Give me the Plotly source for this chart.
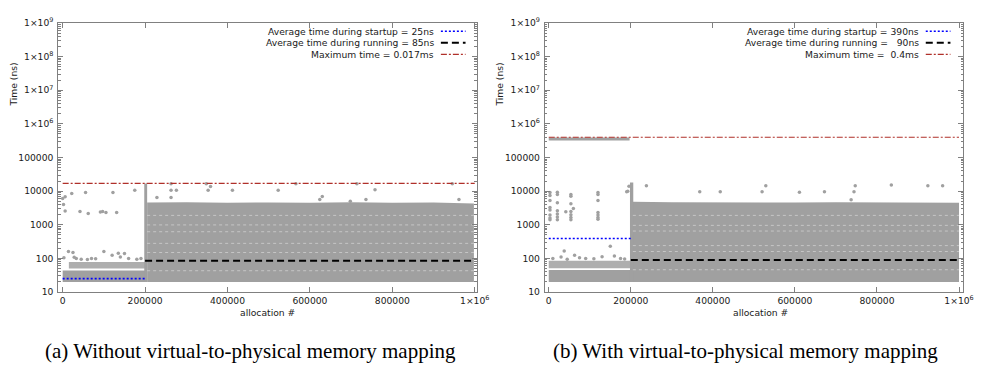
import plotly.graph_objects as go

W, H = 997, 373
GRAY = "#a0a0a0"
AXIS_GRAY = "#808080"
BLUE = "#0000ff"
DARKRED = "#b0302a"

# ---------------- axis ticks ----------------
x_tickvals = [0, 200000, 400000, 600000, 800000, 1000000]
x_ticktext = ["0", "200000", "400000", "600000", "800000", "1×10<sup>6</sup>"]
y_tickvals = [10, 100, 1000, 10000, 100000, 1e6, 1e7, 1e8, 1e9]
y_ticktext = ["10", "100", "1000", "10000", "100000",
              "1×10<sup>6</sup>", "1×10<sup>7</sup>", "1×10<sup>8</sup>", "1×10<sup>9</sup>"]

# ---------------- panel (a): without mapping ----------------
A_avg_startup = 25        # ns
A_avg_running = 85        # ns
A_max = 17000             # ns
A_startup_end = 200000
A_run_end = 1000000
A_labels = ["Average time during startup = 25ns",
            "Average time during running = 85ns",
            "Maximum time = 0.017ms"]

# dense startup band (low)
A_su_band_lo = 20
A_su_band_hi = 44
# secondary startup band
A_su2_x = [15000, 200000]
A_su2_lo = 50
A_su2_hi = 78
# running band top edge
A_run_top_x = [205000, 300000, 400000, 500000, 600000, 700000, 800000, 900000, 998000]
A_run_top_y = [4600, 4700, 4500, 4600, 4500, 4700, 4500, 4600, 4300]
A_run_lo = 20
# spike at start of running phase
A_spike_x = [198000, 205000]
A_spike_hi = 17000
# white streaks inside running band
A_streak_y = [43, 150, 280, 620, 990, 1900]
# outliers startup
A_su_out_x = [0, 6000, 2000, 6000, 22000, 55600, 42000, 62000, 91500, 97000, 105000,
              122000, 131000, 175000,
              14000, 25000, 28000, 3000, 33000, 45000, 70000, 80000, 100000, 120000,
              135000, 150000, 160000, 180000, 190000, 60000, 140000]
A_su_out_y = [6050, 6800, 4000, 2560, 8500, 9050, 2500, 2150, 2400, 2500, 2300,
              9050, 2300, 10700,
              160, 150, 108, 105, 100, 95, 100, 98, 160, 125, 143, 140, 100, 95, 100, 92, 110]
# outliers running
A_run_out_x = [228700, 263000, 263000, 276000, 263000, 348500, 358800, 353000, 412000,
               523000, 566000, 624000, 630000, 698000, 714000, 736000, 758000, 945600, 961700]
A_run_out_y = [6450, 16600, 10700, 10700, 6450, 16600, 13700, 10700, 10700,
               10700, 16600, 5600, 6900, 4980, 16600, 5600, 11000, 16600, 5600]

# ---------------- panel (b): with mapping ----------------
B_avg_startup = 390
B_avg_running = 90
B_max = 400000
B_labels = ["Average time during startup = 390ns",
            "Average time during running = \u00a0\u00a090ns",
            "Maximum time = \u00a00.4ms"]
B_su_band_lo = 20
B_su_band_hi = 45
B_su2_x = [0, 200000]
B_su2_lo = 51
B_su2_hi = 85
# mapping band under the max line
B_map_x = [0, 197000]
B_map_lo = 320000
B_map_hi = 390000
B_run_top_x = [205000, 300000, 400000, 500000, 600000, 700000, 800000, 900000, 1000000]
B_run_top_y = [4800, 4700, 4600, 4700, 4600, 4700, 4600, 4700, 4500]
B_run_lo = 20
B_spike_x = [198000, 206000]
B_spike_hi = 18000
B_streak_y = [46, 160, 240, 650, 960, 1900]
B_su_out_x = [3000, 3000, 3000, 3000, 3000, 3000, 3000, 3000,
              21000, 21000, 21000, 21000, 21000, 21000, 21000,
              54000, 54000, 54000, 54000, 54000, 54000, 54000,
              120000, 120000, 120000, 120000, 120000, 120000, 120000,
              41600, 60000, 37700, 63000, 150000, 195600, 192500,
              10000, 30000, 45000, 75000, 90000, 110000, 130000, 160000, 175000, 185000]
B_su_out_y = [9100, 7400, 5270, 3240, 2740, 1950, 1580, 1400,
              9300, 8000, 4500, 2600, 2100, 1700, 1400,
              8000, 7000, 4200, 2500, 2000, 1650, 1400,
              9100, 8000, 5300, 2300, 1950, 1650, 1450,
              2450, 3050, 166, 125, 228, 14000, 10000,
              100, 110, 95, 105, 100, 98, 112, 118, 100, 96]
B_run_out_x = [190000, 238000, 368000, 418000, 520000, 529000, 611000, 672000,
               744000, 747000, 835000, 924000, 960000, 737000]
B_run_out_y = [9600, 14500, 9600, 9600, 9600, 14500, 9200, 9600,
               9600, 14500, 15200, 14500, 14500, 5500]

fig = go.Figure()


def rect(x0, x1, lo, hi):
    return [x0, x1, x1, x0, x0], [lo, lo, hi, hi, lo]


def add_panel(xa, ya, su_lo, su_hi, su2x, su2lo, su2hi, run_top_x, run_top_y, run_lo,
              spike_x, spike_hi, streak_y, su_out_x, su_out_y, run_out_x, run_out_y,
              avg_su, avg_run, vmax, extra_band=None):
    def poly(x, y, op=1.0):
        fig.add_trace(go.Scatter(x=x, y=y, mode="lines", fill="toself", fillcolor=GRAY,
                                 line=dict(width=0, color=GRAY), opacity=op,
                                 xaxis=xa, yaxis=ya, hoverinfo="skip", showlegend=False))
    # startup dense band
    x, y = rect(0, A_startup_end, su_lo, su_hi)
    poly(x, y)
    x, y = rect(su2x[0], su2x[1], su2lo, su2hi)
    poly(x, y, 0.85)
    if extra_band is not None:
        x, y = rect(*extra_band)
        poly(x, y)
    # running band
    xs = [run_top_x[0]] + run_top_x + [run_top_x[-1], run_top_x[0]]
    ys = [run_lo] + run_top_y + [run_lo, run_lo]
    poly(xs, ys)
    x, y = rect(spike_x[0], spike_x[1], run_lo, spike_hi)
    poly(x, y)
    # white streaks
    for sy in streak_y:
        fig.add_trace(go.Scatter(x=[run_top_x[0], run_top_x[-1]], y=[sy, sy], mode="lines",
                                 line=dict(color="white", width=1, dash="dot"), opacity=0.4,
                                 xaxis=xa, yaxis=ya, hoverinfo="skip", showlegend=False))
    # outliers
    fig.add_trace(go.Scatter(x=su_out_x + run_out_x, y=su_out_y + run_out_y, mode="markers",
                             marker=dict(color=GRAY, size=3.5, symbol="circle"),
                             xaxis=xa, yaxis=ya, showlegend=False))
    # reference lines
    fig.add_trace(go.Scatter(x=[0, A_startup_end], y=[avg_su, avg_su], mode="lines",
                             line=dict(color=BLUE, width=1.6, dash="2px,2px"),
                             xaxis=xa, yaxis=ya, showlegend=False))
    fig.add_trace(go.Scatter(x=[A_startup_end, A_run_end], y=[avg_run, avg_run], mode="lines",
                             line=dict(color="black", width=2, dash="7px,4px"),
                             xaxis=xa, yaxis=ya, showlegend=False))
    fig.add_trace(go.Scatter(x=[0, A_run_end], y=[vmax, vmax], mode="lines",
                             line=dict(color=DARKRED, width=1.2, dash="6px,2px,2px,2px"),
                             xaxis=xa, yaxis=ya, showlegend=False))


add_panel("x", "y", A_su_band_lo, A_su_band_hi, A_su2_x, A_su2_lo, A_su2_hi,
          A_run_top_x, A_run_top_y, A_run_lo, A_spike_x, A_spike_hi, A_streak_y,
          A_su_out_x, A_su_out_y, A_run_out_x, A_run_out_y,
          A_avg_startup, A_avg_running, A_max)
add_panel("x2", "y2", B_su_band_lo, B_su_band_hi, B_su2_x, B_su2_lo, B_su2_hi,
          B_run_top_x, B_run_top_y, B_run_lo, B_spike_x, B_spike_hi, B_streak_y,
          B_su_out_x, B_su_out_y, B_run_out_x, B_run_out_y,
          B_avg_startup, B_avg_running, B_max,
          extra_band=(B_map_x[0], B_map_x[1], B_map_lo, B_map_hi))

FONT = "DejaVu Sans"
TF = dict(family=FONT, size=9.2, color="#1a1a1a")

minor_vals = [m * 10 ** e for e in range(1, 9) for m in range(2, 10)]


def xaxis_cfg(dom, rng, anchor):
    return dict(domain=dom, range=rng, anchor=anchor, showgrid=False, zeroline=False,
                showline=True, linecolor=AXIS_GRAY, linewidth=1, mirror="allticks",
                ticks="inside", ticklen=5, tickcolor=AXIS_GRAY, tickwidth=1,
                tickmode="array", tickvals=x_tickvals, ticktext=x_ticktext, tickfont=TF)


def yaxis_cfg(dom, anchor):
    return dict(domain=dom, type="log", range=[1, 9], anchor=anchor, showgrid=False,
                zeroline=False, showline=True, linecolor=AXIS_GRAY, linewidth=1,
                mirror="allticks", ticks="inside", ticklen=5, tickcolor=AXIS_GRAY,
                tickwidth=1, tickmode="array", tickvals=y_tickvals, ticktext=y_ticktext,
                tickfont=TF, ticklabelstandoff=2,
                minor=dict(tickvals=minor_vals, ticks="inside", ticklen=2.5,
                           tickcolor=AXIS_GRAY, showgrid=False))


ydom = [1 - 294.5 / H, 1 - 16.5 / H]
fig.update_layout(
    width=W, height=H, margin=dict(l=0, r=0, t=0, b=0),
    paper_bgcolor="white", plot_bgcolor="white", showlegend=False,
    xaxis=xaxis_cfg([59 / W, 483 / W], [-10780, 1004790], "y"),
    yaxis=yaxis_cfg(ydom, "x"),
    xaxis2=xaxis_cfg([552 / W, 976 / W], [-9620, 1010340], "y2"),
    yaxis2=yaxis_cfg(ydom, "x2"),
)


def px(x):
    return x / W


def py(y):
    return 1 - y / H


ann = []
shapes = []
LF = dict(family=FONT, size=9.2, color="#1a1a1a")
for labels, text_right, s0, s1 in [(A_labels, 441.7, 446.7, 471.7),
                                   (B_labels, 932.7, 938, 963)]:
    rows = [25, 37, 49]
    styles = [dict(color=BLUE, width=1.6, dash="2px,2px"),
              dict(color="black", width=2, dash="7px,4px"),
              dict(color=DARKRED, width=1.2, dash="6px,2px,2px,2px")]
    for lab, ry, st in zip(labels, rows, styles):
        ann.append(dict(x=px(text_right), y=py(ry), xref="paper", yref="paper", text=lab,
                        showarrow=False, xanchor="right", yanchor="middle", font=LF))
        shapes.append(dict(type="line", xref="paper", yref="paper", x0=px(s0), x1=px(s1),
                           y0=py(ry), y1=py(ry), line=st))

# axis titles
for xc in [13.3, 505.7]:
    ann.append(dict(x=px(xc), y=py(80), xref="paper", yref="paper", text="Time (ns)",
                    showarrow=False, textangle=-90, font=TF, xanchor="center", yanchor="middle"))
for xc in [271, 771]:
    ann.append(dict(x=px(xc), y=py(316), xref="paper", yref="paper", text="allocation #",
                    showarrow=False, font=TF, xanchor="center", yanchor="middle"))
# captions
CF = dict(family="Liberation Serif", size=21, color="black")
ann.append(dict(x=px(254), y=py(355), xref="paper", yref="paper",
                text="(a) Without virtual-to-physical memory mapping", showarrow=False,
                font=CF, xanchor="center", yanchor="middle"))
ann.append(dict(x=px(755), y=py(355), xref="paper", yref="paper",
                text="(b) With virtual-to-physical memory mapping", showarrow=False,
                font=CF, xanchor="center", yanchor="middle"))

fig.update_layout(annotations=ann, shapes=shapes)
fig.write_html("out.html")
